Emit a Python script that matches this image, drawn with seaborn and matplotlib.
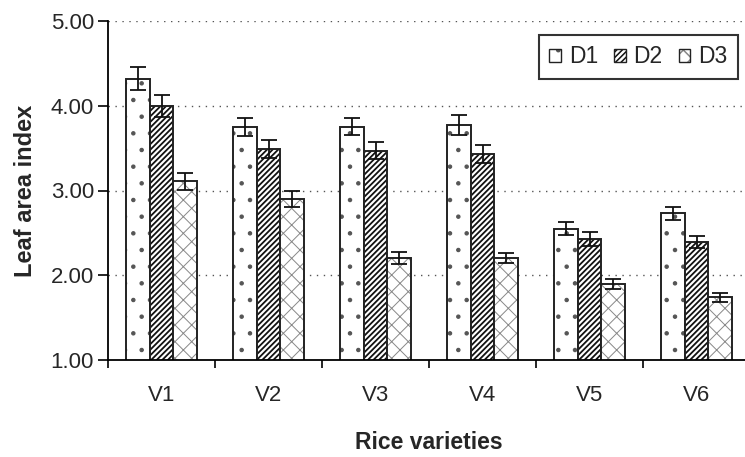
import matplotlib
matplotlib.use("Agg")
import matplotlib.pyplot as plt
import seaborn as sns
import pandas as pd

# Leaf area index of six rice varieties under three doses
varieties = ["V1", "V2", "V3", "V4", "V5", "V6"]
doses = ["D1", "D2", "D3"]
lai_d1 = [4.32, 3.75, 3.75, 3.77, 2.55, 2.73]
lai_d2 = [4.00, 3.49, 3.47, 3.43, 2.43, 2.39]
lai_d3 = [3.11, 2.90, 2.20, 2.20, 1.90, 1.74]
err_d1 = [0.14, 0.11, 0.10, 0.12, 0.08, 0.08]
err_d2 = [0.13, 0.11, 0.10, 0.11, 0.08, 0.07]
err_d3 = [0.10, 0.09, 0.07, 0.06, 0.06, 0.05]

values = [lai_d1, lai_d2, lai_d3]
errors = [err_d1, err_d2, err_d3]
rows = []
for d, vals, errs in zip(doses, values, errors):
    for v, y, e in zip(varieties, vals, errs):
        rows.append({"Variety": v, "Dose": d, "LAI": y, "SE": e})
df = pd.DataFrame(rows)

sns.set_theme(style="white")
plt.rcParams["font.family"] = ["Liberation Sans", "DejaVu Sans"]
plt.rcParams["hatch.linewidth"] = 1.1

fig = plt.figure(figsize=(7.45, 4.57), dpi=100)
ax = fig.add_axes([108 / 745, 1 - 360 / 457, (750 - 108) / 745, (360 - 21) / 457])

palette = {"D1": "white", "D2": "white", "D3": "white"}
sns.barplot(data=df, x="Variety", y="LAI", hue="Dose", order=varieties,
            hue_order=doses, palette=palette, width=0.67, gap=0,
            errorbar=None, edgecolor="#222222", linewidth=1.4, ax=ax,
            legend=True)

# hatch pattern, hatch colour and hatch line width per dose
hatches = {"D1": ".", "D2": "//////", "D3": "xx"}
hatch_colors = {"D1": "#555555", "D2": "#111111", "D3": "#888888"}
hatch_widths = {"D1": 0.8, "D2": 1.3, "D3": 0.7}


def style_patch(p, d):
    p.set_hatch(hatches[d])
    if hasattr(p, "set_hatchcolor"):
        p.set_hatchcolor(hatch_colors[d])
    else:
        p._hatch_color = matplotlib.colors.to_rgba(hatch_colors[d])
    if hasattr(p, "set_hatch_linewidth"):
        p.set_hatch_linewidth(hatch_widths[d])


for container, d, errs in zip(ax.containers, doses, errors):
    xs, ys = [], []
    for bar in container:
        style_patch(bar, d)
        xs.append(bar.get_x() + bar.get_width() / 2)
        ys.append(bar.get_height())
    ax.errorbar(xs, ys, yerr=errs, fmt="none", ecolor="#111111",
                elinewidth=1.3, capsize=6, capthick=1.3, zorder=5)

ax.set_ylim(1.0, 5.0)
ax.set_xlim(-0.5, 5.5)
ax.set_yticks([1, 2, 3, 4, 5])
ax.set_yticklabels([f"{t:.2f}" for t in [1, 2, 3, 4, 5]], fontsize=16)
ax.set_xticks(range(len(varieties)))
ax.set_xticklabels(varieties, fontsize=16)
ax.set_xticks([i + 0.5 for i in range(-1, 6)], minor=True)
ax.tick_params(axis="x", which="major", length=0, pad=18)
ax.tick_params(axis="x", which="minor", length=6, width=1.2, direction="out",
               color="black", bottom=True)
ax.tick_params(axis="y", which="major", length=7, width=1.2, direction="out",
               color="black", left=True, pad=3)

for y in [2, 3, 4, 5]:
    ax.axhline(y, color="#555555", linestyle=(0, (1, 4)), linewidth=1.0, zorder=0)

for side in ["top", "right"]:
    ax.spines[side].set_visible(False)
for side in ["left", "bottom"]:
    ax.spines[side].set_color("black")
    ax.spines[side].set_linewidth(1.3)

ax.set_xlabel("Rice varieties", fontsize=16.5, fontweight="bold", labelpad=18)
ax.set_ylabel("Leaf area index", fontsize=17, fontweight="bold", labelpad=10)

handles, labels = ax.get_legend_handles_labels()
for h, d in zip(handles, doses):
    style_patch(h, d)
    h.set_linewidth(1.0)
leg = ax.legend(handles, labels, loc="upper right", bbox_to_anchor=(0.981, 0.959),
                borderaxespad=0, ncol=3, fontsize=16.5, frameon=True, fancybox=False,
                edgecolor="black", handlelength=0.5, handleheight=0.5,
                handletextpad=0.35, columnspacing=0.7, borderpad=0.45)
leg.get_frame().set_linewidth(1.5)

fig.savefig("out.png", dpi=100)
